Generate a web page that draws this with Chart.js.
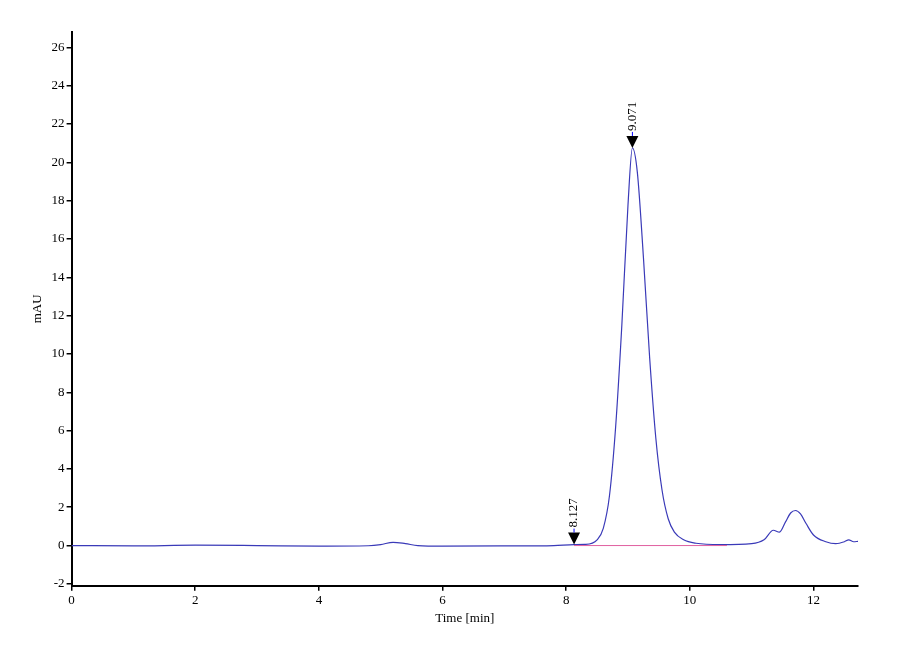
<!DOCTYPE html>
<html><head><script src="https://cdn.jsdelivr.net/npm/chart.js@4"></script>
<style>body{margin:0;background:#fff}#w{width:900px;height:660px}</style></head>
<body><div id="w"><canvas id="c"></canvas></div>
<script>
const times=[0,1,2,3,4,4.8,5.0,5.2,5.4,5.6,6,7,7.8,8.127,8.3,8.5,8.6,8.7,8.8,8.9,9.0,9.071,9.15,9.25,9.35,9.45,9.55,9.65,9.75,9.9,10.1,10.5,11,11.2,11.35,11.45,11.55,11.63,11.71,11.79,11.88,12.0,12.2,12.36,12.5,12.57,12.65,12.72];
const mau=[0,-0.02,0.02,0,-0.03,-0.01,0.05,0.17,0.1,0.0,-0.03,-0.02,0.0,0.05,0.06,0.3,0.9,2.6,6.2,11.5,17.8,20.75,19.5,15.0,9.8,5.6,2.9,1.4,0.7,0.3,0.12,0.05,0.1,0.3,0.8,0.7,1.25,1.7,1.83,1.65,1.15,0.55,0.2,0.1,0.2,0.3,0.2,0.22];
const peakTimes=[8.127,9.071];
const peakVals=[0.05,20.75];
const peakLabels=['8.127','9.071'];
const yTicks=[-2,0,2,4,6,8,10,12,14,16,18,20,22,24,26];
const xTicks=[0,2,4,6,8,10,12];
const baseLine=[{x:8.127,y:0.0},{x:10.6,y:0.0}];
const marks={id:'marks',afterDatasetsDraw(ch){const c=ch.ctx,xs=ch.scales.x,ys=ch.scales.y;
peakTimes.forEach((t,i)=>{const px=xs.getPixelForValue(t),py=ys.getPixelForValue(peakVals[i]);c.save();
c.fillStyle='#000';c.beginPath();c.moveTo(px-6,py-12);c.lineTo(px+6,py-12);c.lineTo(px,py);c.closePath();c.fill();
c.strokeStyle='#00f';c.beginPath();c.moveTo(px,py-12);c.lineTo(px,py-16);c.stroke();
c.translate(px,py-17);c.rotate(-Math.PI/2);c.font='13px "Liberation Serif"';c.fillStyle='#000';c.textBaseline='middle';c.textAlign='left';c.fillText(peakLabels[i],0,0);c.restore();});
}};
const tickGrid={display:true,drawOnChartArea:false,drawTicks:true,tickLength:5,color:'#000',lineWidth:1.5};
new Chart(document.getElementById('c'),{type:'scatter',data:{datasets:[
{data:baseLine,showLine:true,borderColor:'#e060a0',borderWidth:1,pointRadius:0},
{data:times.map((t,i)=>({x:t,y:mau[i]})),showLine:true,borderColor:'#3a3ab8',borderWidth:1.2,pointRadius:0,cubicInterpolationMode:'monotone'}]},
options:{responsive:true,maintainAspectRatio:false,animation:false,layout:{padding:{left:26,right:42,top:32,bottom:30}},
plugins:{legend:{display:false},tooltip:{enabled:false}},
scales:{x:{type:'linear',min:0,max:12.72,afterBuildTicks:a=>{a.ticks=xTicks.map(v=>({value:v}))},grid:tickGrid,border:{color:'#000',width:2},
ticks:{color:'#000',padding:2,font:{family:'Liberation Serif',size:13}},
title:{display:true,text:'Time [min]',color:'#000',font:{family:'Liberation Serif',size:13},padding:{top:0}}},
y:{min:-2.1,max:26.8,afterBuildTicks:a=>{a.ticks=yTicks.map(v=>({value:v}))},grid:tickGrid,border:{color:'#000',width:2},
ticks:{color:'#000',padding:2,font:{family:'Liberation Serif',size:13}},
title:{display:true,text:'mAU',color:'#000',font:{family:'Liberation Serif',size:13}}}}},
plugins:[marks]});
</script></body></html>
